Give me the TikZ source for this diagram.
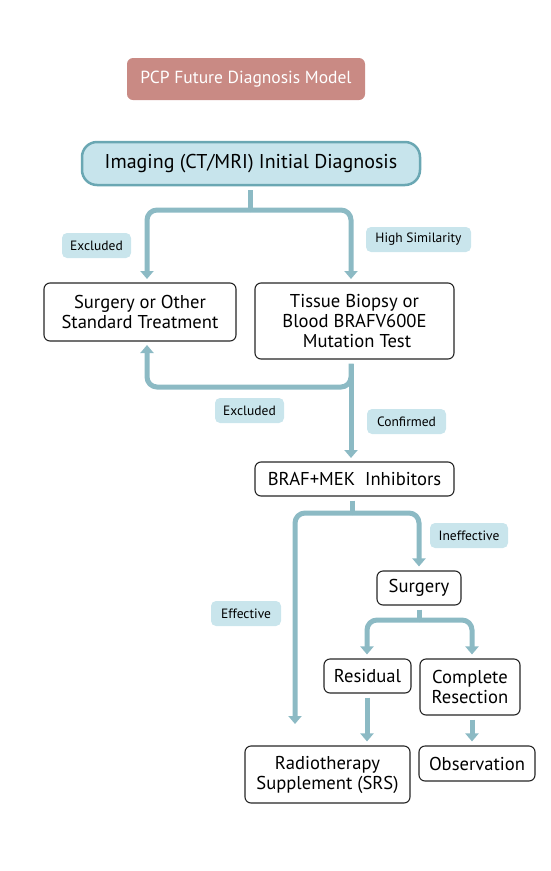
\documentclass[tikz,border=0pt]{standalone}
\usepackage{fontspec}
\setmainfont{PT Sans}
\usetikzlibrary{arrows.meta}
\definecolor{conn}{HTML}{8CBAC4}
\definecolor{lblfill}{HTML}{C9E5EC}
\definecolor{titlefill}{HTML}{C98A84}
\definecolor{imgfill}{HTML}{C7E4EC}
\definecolor{imgdraw}{HTML}{6AA7B3}
\tikzset{
  box/.style={draw=black!85, line width=1.1pt, rounded corners=6pt, fill=white, align=center, inner sep=0pt,
    font=\fontsize{18.6}{20}\selectfont},
  lbl/.style={fill=lblfill, rounded corners=5pt, inner sep=0pt, align=center, font=\fontsize{13.5}{15}\selectfont},
  link/.style={draw=conn, line width=5pt, rounded corners=10pt},
  arr/.style={link, -{Triangle[width=13pt,length=8pt]}, shorten >=4pt},
}
\begin{document}
\begin{tikzpicture}[x=1pt,y=-1pt]
\useasboundingbox (0,0) rectangle (550,871);
% title
\node[fill=titlefill, rounded corners=6pt, minimum width=238pt, minimum height=42pt, inner sep=0pt,
  text=white, font=\fontsize{17.5}{19}\selectfont] (title) at (246,79) {PCP Future Diagnosis Model};
% imaging
\node[fill=imgfill, draw=imgdraw, line width=2.5pt, rounded corners=15pt, minimum width=338pt, minimum height=43pt,
  inner sep=0pt, font=\fontsize{20}{24}\selectfont] (img) at (251,163.5) {Imaging (CT/MRI) Initial Diagnosis};
% boxes
\node[box, minimum width=192pt, minimum height=58pt] (std) at (140,312) {Surgery or Other\\Standard Treatment};
\node[box, minimum width=199pt, minimum height=76pt] (bio) at (354.5,321) {Tissue Biopsy or\\Blood BRAFV600E\\\hspace*{5pt}Mutation Test};
\node[box, minimum width=199pt, minimum height=34pt] (braf) at (354.5,479) {BRAF+MEK\ \ Inhibitors};
\node[box, minimum width=84pt, minimum height=34pt] (surg) at (419,588) {Surgery};
\node[box, minimum width=87pt, minimum height=34pt] (res) at (367.5,676) {Residual};
\node[box, minimum width=100pt, minimum height=56pt] (comp) at (470,687) {Complete\\Resection};
\node[box, minimum width=165pt, minimum height=57pt] (rad) at (327.5,774.5) {Radiotherapy\\Supplement (SRS)};
\node[box, minimum width=116pt, minimum height=35pt] (obs) at (477,763.5) {Observation};
% labels
\node[lbl, minimum width=69pt, minimum height=25pt] (l1) at (96.5,245.5) {Excluded};
\node[lbl, minimum width=105pt, minimum height=25pt] (l2) at (418.5,239.5) {High Similarity};
\node[lbl, minimum width=69pt, minimum height=25pt] (l3) at (249.5,410.5) {Excluded};
\node[lbl, minimum width=79pt, minimum height=25pt] (l4) at (406.5,421.5) {Confirmed};
\node[lbl, minimum width=78pt, minimum height=25pt] (l5) at (469,535.5) {Ineffective};
\node[lbl, minimum width=70pt, minimum height=25pt] (l6) at (246,613.5) {Effective};
% connectors
\coordinate (j1) at (250,210);
\draw[link] ([yshift=-4pt]img.south -| j1) -- (j1);
\draw[arr] (j1) -| (147,283);
\draw[arr] (j1) -| (351,283);
\coordinate (j2) at (351,387);
\draw[arr, shorten <=4pt] (bio.south -| j2) -- (351,462);
\draw[arr, shorten <=4pt] (bio.south -| j2) -- (j2) -| (147,341);
\coordinate (j3) at (352,513);
\draw[link, shorten <=4pt] (braf.south -| j3) -- (j3);
\coordinate (effend) at (295,724);
\draw[arr, shorten >=0pt] (j3) -| (effend);
\draw[arr] (j3) -| (surg.north -| 419,0);
\coordinate (j4) at (419,620);
\draw[link, shorten <=4pt] (surg.south) -- (j4);
\draw[arr] (j4) -| (res.north -| 367,0);
\draw[arr] (j4) -| (comp.north -| 472,0);
\draw[arr, shorten <=4pt] (res.south -| 367,0) -- (rad.north -| 367,0);
\draw[arr, shorten <=4pt] (comp.south -| 472,0) -- (obs.north -| 472,0);
\end{tikzpicture}
\end{document}
